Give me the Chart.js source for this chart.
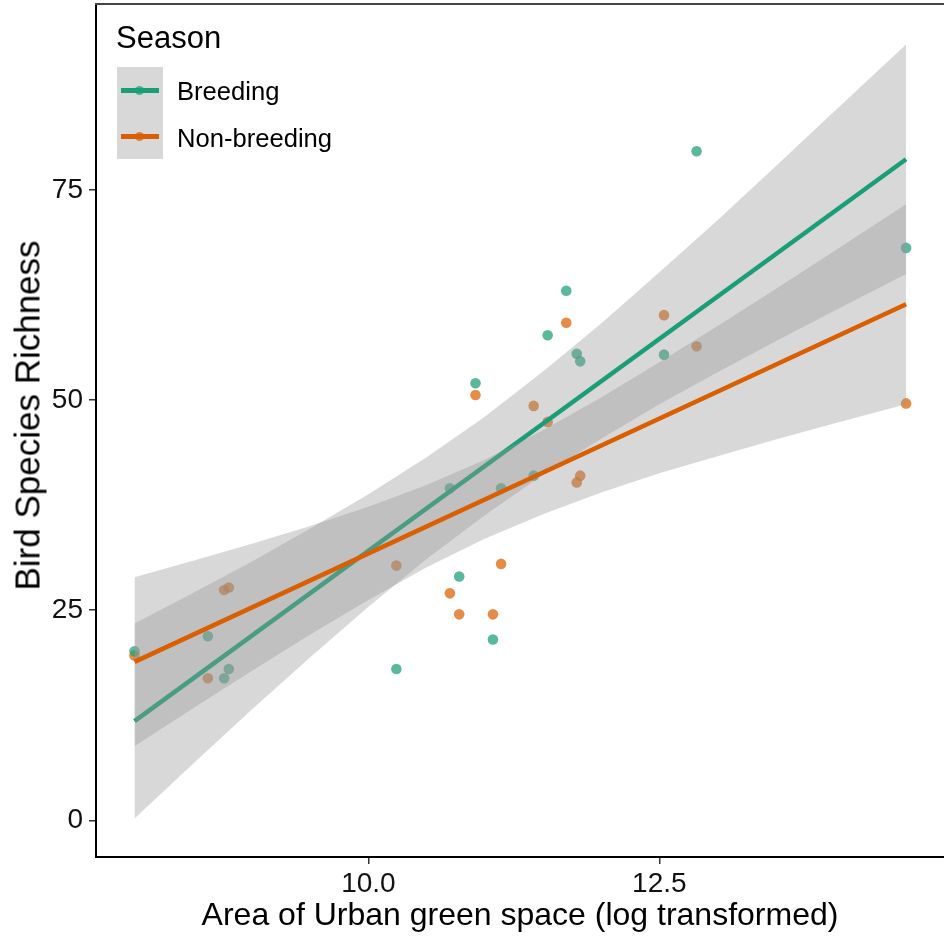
<!DOCTYPE html>
<html>
<head>
<meta charset="utf-8">
<script src="https://cdn.jsdelivr.net/npm/chart.js@4"></script>
<style>
    body { margin: 0; background: #fff; font-family: "Liberation Sans", Arial, sans-serif; }
    #wrap { position: relative; width: 944px; height: 938px; overflow: hidden; }
    canvas { display: block; }
    #legend { position: absolute; left: 0; top: 0; color: #000; }
    .legend-title { position: absolute; left: 116px; top: 22px; font-size: 31px; line-height: 32px; white-space: nowrap; }
    .legend-key { position: absolute; left: 117px; width: 46px; height: 46px; background: #d8d8d8; }
    .legend-key .bar { position: absolute; left: 4px; right: 4px; top: 21px; height: 5px; }
    .legend-key .dot { position: absolute; left: 18px; top: 19px; width: 9px; height: 9px; border-radius: 50%; }
    .legend-label { position: absolute; left: 177px; font-size: 25.6px; line-height: 30px; white-space: nowrap; }
    #y-title {
        position: absolute; left: -223px; top: 398px; width: 500px; height: 35px;
        font-size: 35px; line-height: 35px; text-align: center; color: #000;
        white-space: nowrap; transform: rotate(-90deg);
    }
</style>
</head>
<body>
<div id="wrap">
    <canvas id="chart" width="944" height="938"></canvas>
    <div id="legend"></div>
    <div id="y-title"></div>
</div>
<script>
// study sites: log area of urban green space
const siteArea = [7.99, 8.62, 8.76, 8.80, 10.24, 10.70, 10.78, 10.92, 11.07, 11.14, 11.42, 11.54, 11.70, 11.79, 11.82, 12.54, 12.82, 14.62];
const breedingRichness = [20.1, 21.9, 16.9, 18.0, 18.0, 39.5, 29.0, 52.0, 21.5, 39.5, 41.0, 57.7, 63.0, 55.5, 54.6, 55.4, 79.6, 68.1];
const nonBreedingRichness = [19.6, 16.9, 27.4, 27.7, 30.3, 27.0, 24.5, 50.6, 24.5, 30.5, 49.3, 47.4, 59.2, 40.2, 41.0, 60.1, 56.4, 49.6];

// linear fits (ends of the fitted lines)
const fitX = [7.99, 14.62];
const breedingFit = [11.8, 78.65];
const nonBreedingFit = [18.85, 61.4];

// 95% confidence ribbons
const bandX = [7.99, 8.5, 9, 9.5, 10, 10.5, 11, 11.5, 12, 12.5, 13, 13.5, 14, 14.62];
const breedingLower = [0.2, 6.8, 13.2, 19.4, 25.4, 31.1, 36.3, 41.1, 45.4, 49.5, 53.3, 57.0, 60.6, 65.0];
const breedingUpper = [23.4, 27.1, 30.8, 34.7, 38.8, 43.2, 48.0, 53.4, 59.1, 65.2, 71.4, 77.8, 84.3, 92.3];
const nonBreedingLower = [8.8, 13.4, 17.8, 22.1, 26.2, 30.1, 33.5, 36.4, 39.0, 41.3, 43.3, 45.3, 47.2, 49.5];
const nonBreedingUpper = [28.9, 30.9, 32.9, 35.0, 37.3, 39.9, 42.9, 46.4, 50.3, 54.5, 58.8, 63.2, 67.7, 73.3];

const xTicks = [10, 12.5];
const yTicks = [0, 25, 50, 75];

const seasons = ["Breeding", "Non-breeding"];
const xTitle = "Area of Urban green space (log transformed)";
const yTitle = "Bird Species Richness";

const lineColors = ["#1b9e77", "#d95f02"];
const pointColors = ["rgba(27,158,119,0.72)", "rgba(217,95,2,0.72)"];
const ribbonColor = "rgba(153,153,153,0.38)";
const fontFamily = '"Liberation Sans", Arial, sans-serif';

const toPoints = (xs, ys) => xs.map((x, i) => ({ x: x, y: ys[i] }));

function ribbon(upper, lower, order) {
    return [
        {
            data: toPoints(bandX, upper),
            borderColor: "transparent",
            backgroundColor: ribbonColor,
            pointRadius: 0,
            fill: "+1",
            order: order
        },
        {
            data: toPoints(bandX, lower),
            borderColor: "transparent",
            pointRadius: 0,
            fill: false,
            order: order
        }
    ];
}

function fitLine(ys, color, order) {
    return {
        data: toPoints(fitX, ys),
        borderColor: color,
        borderWidth: 4.5,
        pointRadius: 0,
        fill: false,
        order: order
    };
}

function scatter(ys, color, order) {
    return {
        data: toPoints(siteArea, ys),
        showLine: false,
        pointRadius: 5.3,
        pointBorderWidth: 0,
        pointBackgroundColor: color,
        pointBorderColor: color,
        order: order
    };
}

// keep the panel edges where the axes are fixed, no label overhang padding
function noOverhang(s) {
    s.paddingTop = 0;
    s.paddingBottom = 0;
    s.paddingLeft = 0;
    s.paddingRight = 0;
}

// thin frame line along the top of the panel
const topRule = {
    id: "topRule",
    afterDraw(chart) {
        const ctx = chart.ctx;
        ctx.save();
        ctx.strokeStyle = "#444";
        ctx.lineWidth = 2;
        ctx.beginPath();
        ctx.moveTo(chart.chartArea.left - 1, 4);
        ctx.lineTo(chart.width, 4);
        ctx.stroke();
        ctx.restore();
    }
};

new Chart(document.getElementById("chart"), {
    type: "line",
    data: {
        datasets: [
            scatter(nonBreedingRichness, pointColors[1], 7),
            scatter(breedingRichness, pointColors[0], 6),
            ...ribbon(breedingUpper, breedingLower, 5),
            fitLine(breedingFit, lineColors[0], 4),
            ...ribbon(nonBreedingUpper, nonBreedingLower, 3),
            fitLine(nonBreedingFit, lineColors[1], 2)
        ]
    },
    options: {
        responsive: false,
        animation: false,
        layout: { autoPadding: false, padding: { top: 5, right: 0, bottom: 0, left: 0 } },
        plugins: {
            legend: { display: false },
            tooltip: { enabled: false },
            filler: { propagate: false }
        },
        scales: {
            x: {
                type: "linear",
                min: 7.659,
                max: 14.946,
                afterBuildTicks: s => { s.ticks = xTicks.map(v => ({ value: v })); },
                afterFit: s => { s.height = 81; noOverhang(s); },
                grid: { drawOnChartArea: false, drawTicks: true, tickLength: 7, color: "#333", lineWidth: 1.5 },
                border: { display: true, color: "#000", width: 2 },
                ticks: {
                    font: { family: fontFamily, size: 28 },
                    color: "#111",
                    padding: 3,
                    maxRotation: 0,
                    callback: v => v.toFixed(1)
                },
                title: {
                    display: true,
                    text: xTitle,
                    font: { family: fontFamily, size: 32 },
                    color: "#000",
                    padding: { top: 0, bottom: 3 }
                }
            },
            y: {
                type: "linear",
                min: -4.37,
                max: 97.0,
                afterBuildTicks: s => { s.ticks = yTicks.map(v => ({ value: v })); },
                afterFit: s => { s.width = 96; noOverhang(s); },
                grid: { drawOnChartArea: false, drawTicks: true, tickLength: 7, color: "#333", lineWidth: 1.5 },
                border: { display: true, color: "#000", width: 2 },
                ticks: {
                    font: { family: fontFamily, size: 28 },
                    color: "#111",
                    padding: 6
                }
            }
        }
    },
    plugins: [topRule]
});

// y title sits a little above the panel centre, so it is placed by hand
document.getElementById("y-title").textContent = yTitle;

// legend: title, grey key cells with line + dot, labels
const legend = document.getElementById("legend");
const title = document.createElement("div");
title.className = "legend-title";
title.textContent = "Season";
legend.appendChild(title);

seasons.forEach((name, i) => {
    const key = document.createElement("div");
    key.className = "legend-key";
    key.style.top = (67 + i * 46) + "px";
    const bar = document.createElement("div");
    bar.className = "bar";
    bar.style.background = lineColors[i];
    const dot = document.createElement("div");
    dot.className = "dot";
    dot.style.background = pointColors[i];
    key.appendChild(bar);
    key.appendChild(dot);
    legend.appendChild(key);

    const label = document.createElement("div");
    label.className = "legend-label";
    label.style.top = (76 + i * 46.5) + "px";
    label.textContent = name;
    legend.appendChild(label);
});
</script>
</body>
</html>
